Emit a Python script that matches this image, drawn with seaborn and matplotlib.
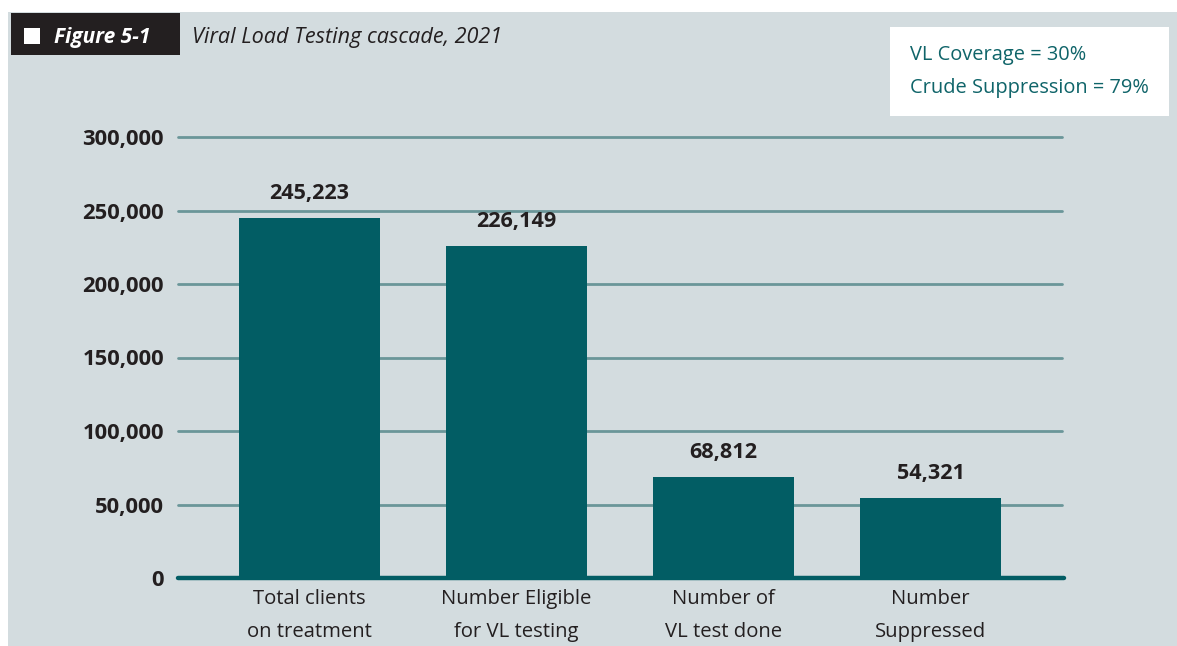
import matplotlib
matplotlib.use("Agg")
import matplotlib.pyplot as plt
from matplotlib.patches import Rectangle
import pandas as pd
import seaborn as sns

# Viral load testing cascade, 2021
categories = ["Total clients\non treatment", "Number Eligible\nfor VL testing",
              "Number of\nVL test done", "Number\nSuppressed"]
counts = [245223, 226149, 68812, 54321]
y_ticks = [0, 50000, 100000, 150000, 200000, 250000, 300000]
y_tick_labels = ["0", "50,000", "100,000", "150,000", "200,000", "250,000", "300,000"]
figure_tag = "Figure 5-1"
title = "Viral Load Testing cascade, 2021"
summary_lines = ["VL Coverage = 30%", "Crude Suppression = 79%"]

PANEL = "#d3dcdf"
BAR = "#025d64"
GRID = "#6a9699"
INK = "#231f20"
TEAL_TEXT = "#0f6469"

sns.set_theme(style="white")
plt.rcParams["font.family"] = ["Open Sans", "DejaVu Sans"]

W, H = 1177, 646
fig = plt.figure(figsize=(W / 100, H / 100), dpi=100, facecolor="white")

def fx(px):
    return px / W

def fy(py):
    return 1 - py / H

# grey panel behind everything
fig.patches.append(Rectangle((fx(8), 0), 1 - fx(8), fy(12), transform=fig.transFigure,
                             facecolor=PANEL, edgecolor="none", zorder=0))

# header tag
fig.patches.append(Rectangle((fx(11), fy(55)), fx(180) - fx(11), fy(13) - fy(55),
                             transform=fig.transFigure, facecolor=INK, edgecolor="none", zorder=1))
fig.patches.append(Rectangle((fx(24), fy(44)), fx(40) - fx(24), fy(28) - fy(44),
                             transform=fig.transFigure, facecolor="white", edgecolor="none", zorder=2))
fig.text(fx(54), fy(38), figure_tag, color="white", fontsize=15, fontweight="bold",
         style="italic", va="center", ha="left")
fig.text(fx(192), fy(38), title, color=INK, fontsize=15.6, style="italic",
         va="center", ha="left")

# summary box
fig.patches.append(Rectangle((fx(890), fy(116)), fx(1169) - fx(890), fy(27) - fy(116),
                             transform=fig.transFigure, facecolor="white", edgecolor="none", zorder=1))
fig.text(fx(910), fy(55), summary_lines[0], color=TEAL_TEXT, fontsize=14.4,
         va="center", ha="left")
fig.text(fx(910), fy(88), summary_lines[1], color=TEAL_TEXT, fontsize=14.4,
         va="center", ha="left")

# plotting area
ax = fig.add_axes([fx(178), fy(578), fx(1062) - fx(178), fy(137) - fy(578)])
ax.set_zorder(5)
ax.set_facecolor("none")

df = pd.DataFrame({"category": categories, "count": counts})
sns.barplot(data=df, x="category", y="count", color=BAR, saturation=1,
            width=0.68, linewidth=0, ax=ax, zorder=3)

ax.set_xlim(-0.635, 3.635)
ax.set_ylim(0, 300000)
ax.set_yticks(y_ticks)
ax.set_yticklabels(y_tick_labels, fontsize=15.8, fontweight="bold", color=INK)
ax.tick_params(axis="y", length=0, pad=10)
ax.tick_params(axis="x", length=0, pad=8, labelsize=14.6, labelcolor=INK)
for lab in ax.get_xticklabels():
    lab.set_linespacing(1.85)
    lab.set_va("top")
ax.set_xlabel("")
ax.set_ylabel("")

for y in y_ticks[1:]:
    ax.axhline(y, color=GRID, lw=2.0, zorder=1, clip_on=False)
ax.plot([-0.635, 3.645], [0, 0], color=BAR, lw=3.2, solid_capstyle="round",
        zorder=4, clip_on=False)

for spine in ax.spines.values():
    spine.set_visible(False)

for i, v in enumerate(counts):
    ax.annotate(f"{v:,}", (i, v), xytext=(0, 10), textcoords="offset points",
                ha="center", va="bottom", fontsize=15.6, fontweight="bold", color=INK)

fig.savefig("out.png", dpi=100, facecolor="white")
